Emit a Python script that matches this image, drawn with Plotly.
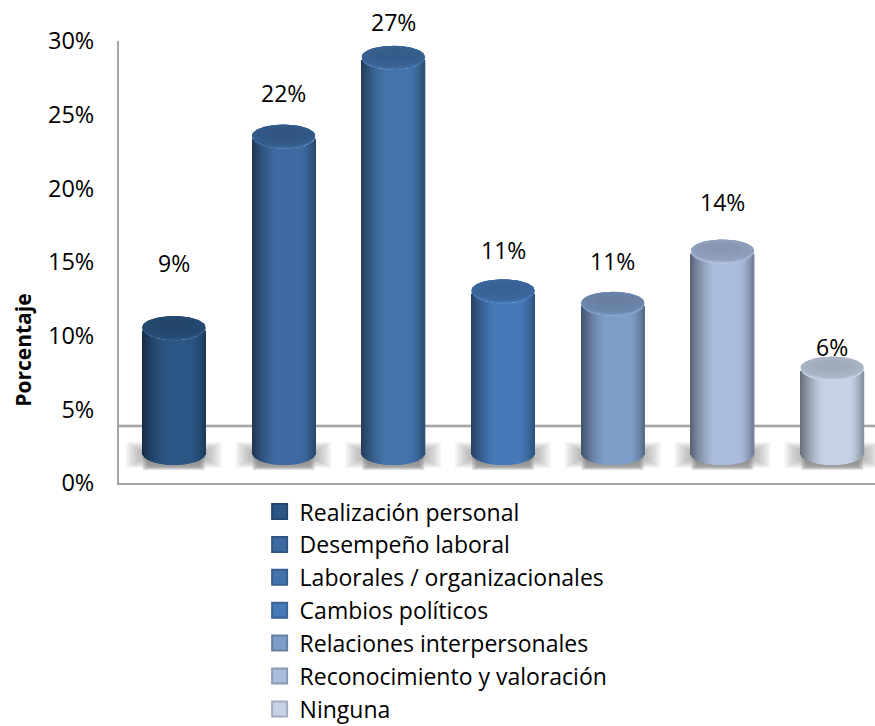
import math
import plotly.graph_objects as go

categorias = ["Realización personal", "Desempeño laboral", "Laborales / organizacionales",
              "Cambios políticos", "Relaciones interpersonales",
              "Reconocimiento y valoración", "Ninguna"]
etiquetas = ["9%", "22%", "27%", "11%", "11%", "14%", "6%"]
# height of each cylinder's top on the printed axis
altura_eje = [10.5, 23.5, 28.85, 13.0, 12.15, 15.7, 7.75]
# where each label sits on the axis
altura_etiqueta = [14.9, 26.45, 31.3, 15.8, 15.05, 19.1, 9.25]
colores = ["#2c5684", "#3d6aa0", "#4273ab", "#4679b8", "#7f9dc9", "#aabcdc", "#c6d3e7"]
marcas_y = [0, 5, 10, 15, 20, 25, 30]
textos_y = ["0%", "5%", "10%", "15%", "20%", "25%", "30%"]

BASE = 2.04
PISO = 3.87
FONT = "Open Sans"
GRIS = "#a6a6a6"
H_PLOT = 442.0
W_PLOT = 756.0
RANGO_X = (-0.5, 6.39)
px_x = (RANGO_X[1] - RANGO_X[0]) / W_PLOT
px_y = 30.0 / H_PLOT
RX = 31.5 * px_x
RY = 12.0 * px_y
N = 63


def tono(hexa, f):
    r, g, b = int(hexa[1:3], 16), int(hexa[3:5], 16), int(hexa[5:7], 16)
    if f <= 1:
        r, g, b = r * f, g * f, b * f
    else:
        t = f - 1
        r, g, b = r + (255 - r) * t, g + (255 - g) * t, b + (255 - b) * t
    return f"rgb({int(r)},{int(g)},{int(b)})"


def sombra_lateral(u):
    # u in -1..1 across the cylinder
    if u < -0.25:
        s = (-0.25 - u) / 0.75
        return 1.0 - 0.48 * s ** 1.4
    if u > 0.55:
        s = (u - 0.55) / 0.45
        return 1.0 - 0.32 * s ** 1.6
    return 1.0


fig = go.Figure()
indices = list(range(len(categorias)))

# blurred floor shadows
for k in range(12):
    hw = 48 - k * 1.6
    y0 = 442 + k * 0.9
    y1 = 468 - k * 0.9
    fig.add_trace(go.Bar(
        x=indices, y=[(y1 - y0) * px_y] * 7, base=[(483 - y1) * px_y] * 7,
        width=2 * hw * px_x, offset=-hw * px_x, marker=dict(color="#8c8c8c", line_width=0),
        opacity=0.07, showlegend=False, hoverinfo="skip"))
for k in range(4):
    fig.add_trace(go.Bar(
        x=indices, y=[20 * px_y] * 7, base=[(483 - 470 + k * 1.0) * px_y] * 7,
        width=2 * (31 - k * 1.5) * px_x, offset=-(31 - k * 1.5) * px_x,
        marker=dict(color="#707070", line_width=0),
        opacity=0.2, showlegend=False, hoverinfo="skip"))

# cylinder sides: vertical strips with a horizontal shading
for k in range(N):
    u0 = -1 + 2 * k / N
    u1 = -1 + 2 * (k + 1) / N
    um = (u0 + u1) / 2
    drop = RY * math.sqrt(max(0, 1 - um * um))
    fig.add_trace(go.Bar(
        x=indices,
        y=[t - BASE for t in altura_eje],
        base=[BASE - drop] * 7,
        width=(u1 - u0) * RX + 0.5 * px_x,
        offset=u0 * RX,
        marker=dict(color=[tono(c, sombra_lateral(um)) for c in colores], line_width=0),
        showlegend=False, hoverinfo="skip"))

# cylinder caps: light front rim, then progressively darker layers
paso = [2 * math.pi * i / 60 for i in range(61)]
for i, (t, c) in enumerate(zip(altura_eje, colores)):
    capas = [(1.0, 1.0, 0.0, 1.0), (1.0, 0.96, 0.6, 0.95), (1.0, 0.92, 1.2, 0.89),
             (0.99, 0.86, 1.8, 0.85), (0.85, 0.65, 2.6, 0.83), (0.6, 0.42, 3.2, 0.81)]
    for fx, fy, dy, f in capas:
        fig.add_trace(go.Scatter(
            x=[i + fx * RX * math.cos(a) for a in paso],
            y=[t + dy * px_y + fy * RY * math.sin(a) for a in paso],
            mode="lines", line=dict(width=0), fill="toself", fillcolor=tono(c, f),
            showlegend=False, hoverinfo="skip"))

# legend entries
for nombre, c in zip(categorias, colores):
    fig.add_trace(go.Scatter(
        x=[None], y=[None], mode="markers", name=nombre, legendgroup=nombre,
        marker=dict(symbol="square", size=15, color=c, line=dict(color=tono(c, 0.82), width=2))))

# data labels (the tallest one sits above the plot area)
for i, (txt, h) in enumerate(zip(etiquetas, altura_etiqueta)):
    y = min(h, 30)
    fig.add_annotation(text=txt, x=i, y=y, yshift=(h - y) / px_y, xref="x", yref="y",
                       showarrow=False, xanchor="center", yanchor="middle",
                       font=dict(family=FONT, size=23, color="#000000"))

for w, col in [(4, "#e2e2e2"), (2, GRIS)]:
    fig.add_shape(type="line", xref="x domain", yref="y", x0=0, x1=1, y0=PISO, y1=PISO,
                  line=dict(color=col, width=w), layer="below")

fig.add_annotation(text="<b>Porcentaje</b>", xref="paper", yref="paper", x=-0.1265, y=0.30,
                   xanchor="center", yanchor="middle", textangle=-90, showarrow=False,
                   font=dict(family=FONT, size=21, color="#000000"))

fig.update_layout(
    width=875, height=726,
    margin=dict(l=119, r=0, t=41, b=243, autoexpand=False),
    paper_bgcolor="#ffffff", plot_bgcolor="#ffffff",
    barmode="overlay",
    font=dict(family=FONT, size=21, color="#000000"),
    xaxis=dict(range=list(RANGO_X), showticklabels=False, ticks="", showgrid=False, zeroline=False,
               showline=True, linecolor=GRIS, linewidth=2),
    yaxis=dict(range=[0, 30], tickvals=marcas_y, ticktext=textos_y, ticks="", showgrid=False,
               zeroline=False, showline=True, linecolor=GRIS, linewidth=2, ticklabelstandoff=18,
               tickfont=dict(family=FONT, size=23.5, color="#000000")),
    legend=dict(x=0.186, y=-0.016, xanchor="left", yanchor="top", orientation="v",
                traceorder="normal", tracegroupgap=6, itemsizing="trace",
                bgcolor="rgba(0,0,0,0)", font=dict(family=FONT, size=23, color="#000000")),
)

fig.write_html("out.html", post_script="document.body.style.margin='0';",
               config={"displayModeBar": False})
